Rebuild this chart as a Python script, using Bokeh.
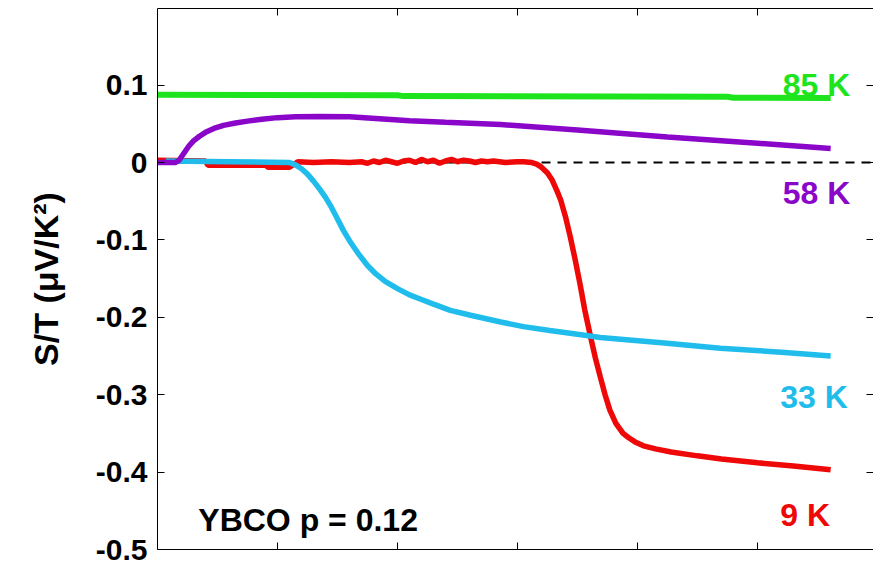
from bokeh.plotting import figure
from bokeh.models import LinearAxis, FixedTicker, Span, Label
from bokeh.embed import file_html
from bokeh.resources import INLINE

# ---- data ----
green_x = [0.0, 2.0, 2.05, 4.75, 4.8, 5.61]
green_y = [0.0875, 0.0868, 0.0858, 0.0850, 0.0838, 0.0834]

purple_x = [0.0, 0.15, 0.18, 0.22, 0.26, 0.30, 0.35, 0.40, 0.47, 0.55, 0.65, 0.75,
            0.87, 1.0, 1.15, 1.35, 1.6, 1.85, 2.1, 2.4, 2.86, 3.5, 4.25, 5.0, 5.61]
purple_y = [0.0, 0.0, 0.003, 0.012, 0.021, 0.028, 0.034, 0.039, 0.044, 0.048, 0.051,
            0.0535, 0.056, 0.058, 0.059, 0.0595, 0.059, 0.0565, 0.054, 0.052, 0.049,
            0.042, 0.033, 0.025, 0.018]

cyan_x = [0.07, 0.6, 1.1, 1.15, 1.2, 1.25, 1.3, 1.35, 1.4, 1.45, 1.5, 1.55, 1.6,
          1.67, 1.75, 1.82, 1.9, 2.0, 2.1, 2.2, 2.3, 2.44, 2.6, 2.86, 3.05, 3.27,
          3.5, 3.69, 4.2, 4.69, 5.2, 5.61]
cyan_y = [0.002, 0.001, 0.0, -0.003, -0.008, -0.015, -0.024, -0.034, -0.045, -0.058,
          -0.073, -0.088, -0.101, -0.117, -0.133, -0.144, -0.154, -0.163, -0.171,
          -0.177, -0.183, -0.191, -0.197, -0.206, -0.212, -0.217, -0.222, -0.226,
          -0.233, -0.240, -0.245, -0.250]

red_x = [0.0, 0.40, 0.42, 0.9, 0.92, 1.1, 1.17, 1.3, 1.45, 1.6, 1.7, 1.75, 1.8,
         1.85, 1.9, 1.95, 2.0, 2.05, 2.1, 2.15, 2.2, 2.25, 2.3, 2.35, 2.4, 2.45,
         2.5, 2.55, 2.6, 2.65, 2.7, 2.75, 2.8, 2.9, 3.0, 3.05, 3.12, 3.16, 3.2,
         3.25, 3.29, 3.33, 3.36, 3.40, 3.44, 3.48, 3.52, 3.56, 3.61, 3.65, 3.69,
         3.73, 3.77, 3.82, 3.88, 3.93, 3.98, 4.05, 4.15, 4.28, 4.5, 4.7, 5.0, 5.3,
         5.61]
red_y = [0.003, 0.002, -0.0035, -0.0035, -0.006, -0.006, 0.001, 0.0, 0.001, 0.0,
         0.001, -0.001, 0.002, 0.0, 0.003, 0.001, -0.001, 0.002, 0.003, 0.0, 0.004,
         0.001, 0.003, -0.001, 0.002, 0.004, 0.001, 0.003, 0.002, 0.0, 0.002, 0.001,
         0.002, 0.0, 0.001, 0.001, 0.0, -0.002, -0.006, -0.0136, -0.023, -0.037,
         -0.0485, -0.070, -0.096, -0.125, -0.156, -0.190, -0.226, -0.253, -0.277,
         -0.300, -0.320, -0.337, -0.350, -0.356, -0.361, -0.366, -0.370, -0.374,
         -0.379, -0.383, -0.388, -0.392, -0.397]

series_labels = ["85 K", "58 K", "33 K", "9 K"]
y_ticks = [0.1, 0.0, -0.1, -0.2, -0.3, -0.4, -0.5]
y_tick_labels = ["0.1", "0", "-0.1", "-0.2", "-0.3", "-0.4", "-0.5"]
x_ticks = [1, 2, 3, 4, 5]
annotation = "YBCO p = 0.12"
y_label = "S/T (\u03bcV/K\u00b2)"

GREEN = "#1ee41e"
PURPLE = "#8a06c8"
CYAN = "#20bdec"
RED = "#ee0808"
FONT = "Liberation Sans"

p = figure(width=873, height=563, x_range=(0, 5.967), y_range=(-0.5, 0.199),
           output_backend="svg", toolbar_location=None,
           min_border_left=157, min_border_right=0, min_border_top=8,
           min_border_bottom=14, background_fill_color="white",
           border_fill_color="white")
p.grid.visible = False
p.outline_line_color = None

def style_hidden_axis(ax, ticks):
    ax.ticker = FixedTicker(ticks=ticks)
    ax.major_label_overrides = {t: "" for t in ticks}
    ax.major_label_text_font_size = "1px"
    ax.major_label_standoff = 0
    ax.major_tick_in = 7
    ax.major_tick_out = 0
    ax.minor_tick_in = 0
    ax.minor_tick_out = 0
    ax.axis_line_color = "black"
    ax.axis_line_width = 1
    ax.major_tick_line_color = "black"
    ax.major_tick_line_width = 1

# bottom axis
style_hidden_axis(p.xaxis[0], x_ticks)

# top axis
top = LinearAxis()
style_hidden_axis(top, x_ticks)
p.add_layout(top, "above")

# right axis (spine lies beyond the window)
right = LinearAxis()
style_hidden_axis(right, y_ticks)
right.axis_line_color = None
p.add_layout(right, "right")

# left axis
ya = p.yaxis[0]
ya.ticker = FixedTicker(ticks=y_ticks)
ya.major_label_overrides = {t: s for t, s in zip(y_ticks, y_tick_labels)}
ya.major_label_text_font = FONT
ya.major_label_text_font_style = "bold"
ya.major_label_text_font_size = "30px"
ya.major_label_text_color = "black"
ya.major_label_standoff = 10
ya.major_tick_in = 7
ya.major_tick_out = 0
ya.minor_tick_in = 0
ya.minor_tick_out = 0
ya.axis_line_color = "black"
ya.axis_line_width = 1
ya.axis_label = y_label
ya.axis_label_text_font = FONT
ya.axis_label_text_font_style = "bold"
ya.axis_label_text_font_size = "34px"
ya.axis_label_text_color = "black"
ya.axis_label_standoff = 28

# zero reference line
p.add_layout(Span(location=0, dimension="width", line_color="black",
                  line_width=2, line_dash="9 7", level="underlay"))

# curves
p.line(red_x, red_y, line_color=RED, line_width=5.5)
p.line(cyan_x, cyan_y, line_color=CYAN, line_width=5.5)
p.line(purple_x, purple_y, line_color=PURPLE, line_width=5.5)
p.line(green_x, green_y, line_color=GREEN, line_width=6)

# labels
label_pos = [(5.21, 0.1003, GREEN), (5.21, -0.0395, PURPLE),
             (5.19, -0.303, CYAN), (5.19, -0.456, RED)]
for txt, (lx, ly, col) in zip(series_labels, label_pos):
    p.add_layout(Label(x=lx, y=ly, text=txt, text_color=col, text_font=FONT,
                       text_font_style="bold", text_font_size="32px",
                       text_baseline="alphabetic", text_align="left"))

p.add_layout(Label(x=0.34, y=-0.4625, text=annotation, text_color="black",
                   text_font=FONT, text_font_style="bold", text_font_size="32px",
                   text_baseline="alphabetic", text_align="left"))

open("out.html", "w").write(file_html(p, INLINE))
